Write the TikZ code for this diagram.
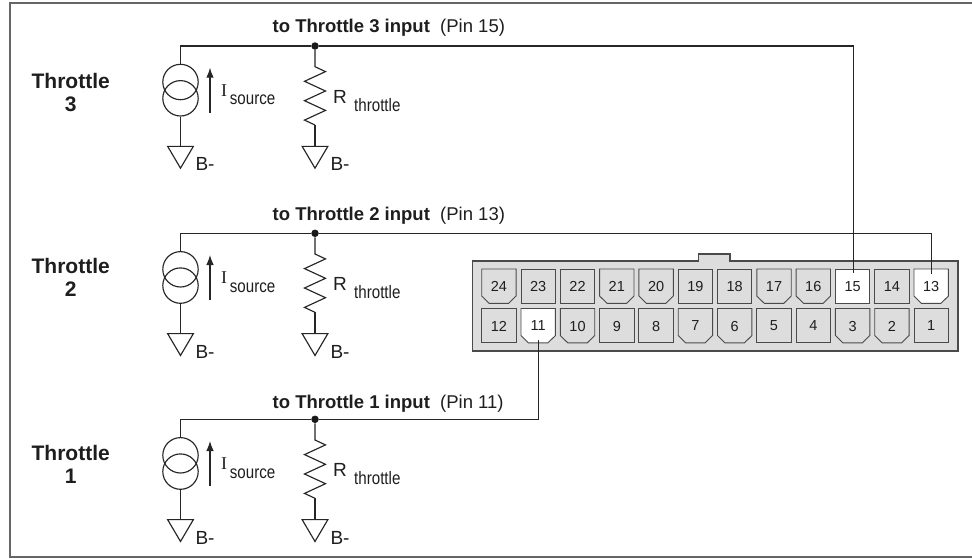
\documentclass[tikz,border=0pt]{standalone}
\usepackage{fontspec}
\setmainfont{Liberation Sans}
\newfontfamily\serifi{Liberation Serif}
\newfontfamily\narrowsans[FakeStretch=0.84]{Liberation Sans}
\usetikzlibrary{shapes.geometric,arrows.meta}
\definecolor{wire}{HTML}{262626}
\definecolor{housing}{HTML}{DDDDDD}
\definecolor{pinedge}{HTML}{4A4A4A}
\definecolor{textcol}{HTML}{1E1E1E}
\tikzset{
 wireline/.style={draw=wire,line width=1.15pt},
 junction/.style={circle,fill=black!90,inner sep=0pt,minimum size=7.5pt},
 anchorpt/.style={inner sep=0pt,minimum size=0pt},
 groundsym/.style={wireline,isosceles triangle,isosceles triangle apex angle=61,shape border rotate=-90,inner sep=0pt,minimum height=21.8pt,minimum width=25.7pt,anchor=apex},
 srccircle/.style={wireline,circle,minimum size=35.4pt,inner sep=0pt},
 pinlabel/.style={font=\fontsize{14.5}{15}\selectfont,text=textcol,inner sep=0pt},
 toplabel/.style={font=\fontsize{18.5}{20}\selectfont,text=textcol,anchor=base west,inner sep=0pt},
 sidelabel/.style={font=\bfseries\fontsize{21}{23}\selectfont,text=textcol,align=center,inner sep=0pt,anchor=south},
 quantity/.style={font=\fontsize{19}{21}\selectfont,text=textcol,anchor=base west,inner sep=0pt},
 symi/.style={font=\serifi\fontsize{18}{20}\selectfont,text=textcol,anchor=base west,inner sep=0pt},
 subtext/.style={font=\narrowsans\fontsize{18}{20}\selectfont,text=textcol,anchor=base west,inner sep=0pt},
 pinnode/.style={minimum width=34.4pt,minimum height=34.4pt,inner sep=0pt},
 pinbody/.style={draw=pinedge,line width=0.9pt},
}
% straight pin: #1 number, #2 x-left, #3 y-top, #4 fill
\newcommand{\straightpin}[4]{%
 \path[pinbody,fill=#4] (#2,#3) rectangle ++(34.4,34.4);
 \node[pinnode] (pin#1) at (#2+17.2,#3+17.2) {};
 \node[pinlabel] (lbl#1) at (#2+17.2,#3+17.5) {#1};
}
% chamfered pin
\newcommand{\chamferpin}[4]{%
 \path[pinbody,fill=#4] (#2,#3) -- ++(34.4,0) -- ++(0,27) -- ++(-7.5,7.4) -- ++(-19.4,0) -- ++(-7.5,-7.4) -- cycle;
 \node[pinnode] (pin#1) at (#2+17.2,#3+17.2) {};
 \node[pinlabel] (lbl#1) at (#2+17.2,#3+17.5) {#1};
}
% one throttle circuit: #1 name, #2 wire y
\newcommand{\throttle}[2]{%
 \node[junction] (dot#1) at (315,#2) {};
 \coordinate (corner#1) at (180.5,#2);
 \node[srccircle] (srcA#1) at (180.5,#2+36) {};
 \node[srccircle] (srcB#1) at (180.5,#2+52.3) {};
 \draw[wireline] (dot#1) -- (corner#1) -- (srcA#1.north);
 \node[groundsym] (gndA#1) at (180.5,#2+123.3) {};
 \draw[wireline] (srcB#1.south) -- (gndA#1.lower side);
 \node[anchorpt] (arrB#1) at (210,#2+67) {};
 \node[anchorpt] (arrT#1) at (210,#2+21.5) {};
 \draw[wireline,-{Latex[length=10pt,width=7.5pt]}] (arrB#1) -- (arrT#1);
 \node[symi] (isym#1) at (220.8,#2+50) {I};
 \node[subtext] (isrc#1) at (229.7,#2+58.7) {source};
 \coordinate (rt#1) at (315,#2+20.7);
 \coordinate (rb#1) at (315,#2+79);
 \draw[wireline] (dot#1) -- (rt#1) -- ++(10.5,4.9) -- ++(-21,9.7) -- ++(21,9.7) -- ++(-21,9.7) -- ++(21,9.7) -- ++(-21,9.7) -- (rb#1);
 \node[groundsym] (gndB#1) at (315,#2+123.3) {};
 \draw[wireline] (rb#1) -- (gndB#1.lower side);
 \node[quantity] (rsym#1) at (332.8,#2+57.5) {R};
 \node[subtext] (rsub#1) at (354,#2+65.3) {throttle};
 \node[quantity] (bA#1) at (195.3,#2+124.7) {B-};
 \node[quantity] (bB#1) at (330.3,#2+124.7) {B-};
}
\begin{document}
\begin{tikzpicture}[x=1pt,y=-1pt]
\useasboundingbox (0,0) rectangle (972,558);
\fill[white] (0,0) rectangle (972,558);
\draw[draw=black!60,line width=1.2pt] (972,3) -- (10,3) -- (10,557) -- (972,557);
% connector housing
\path[fill=housing,draw=pinedge,line width=1.3pt] (472.5,261) -- (698.5,261) -- (698.5,254) -- (730,254) -- (730,261) -- (958,261) -- (958,351) -- (472.5,351) -- cycle;
% top row
\chamferpin{24}{481.7}{269}{housing}
\straightpin{23}{521}{269}{housing}
\straightpin{22}{560.3}{269}{housing}
\chamferpin{21}{599.6}{269}{housing}
\chamferpin{20}{638.9}{269}{housing}
\straightpin{19}{678.2}{269}{housing}
\straightpin{18}{717.5}{269}{housing}
\chamferpin{17}{756.8}{269}{housing}
\chamferpin{16}{796.1}{269}{housing}
\straightpin{15}{835.4}{269}{white}
\straightpin{14}{874.7}{269}{housing}
\chamferpin{13}{914}{269}{white}
% bottom row
\straightpin{12}{481.7}{308.5}{housing}
\chamferpin{11}{521}{308.5}{white}
\chamferpin{10}{560.3}{308.5}{housing}
\straightpin{9}{599.6}{308.5}{housing}
\straightpin{8}{638.9}{308.5}{housing}
\chamferpin{7}{678.2}{308.5}{housing}
\chamferpin{6}{717.5}{308.5}{housing}
\straightpin{5}{756.8}{308.5}{housing}
\straightpin{4}{796.1}{308.5}{housing}
\chamferpin{3}{835.4}{308.5}{housing}
\chamferpin{2}{874.7}{308.5}{housing}
\straightpin{1}{914}{308.5}{housing}
% circuits
\throttle{C}{46}
\throttle{B}{233.3}
\throttle{A}{419.3}
% wires to pins
\draw[wireline] (dotC) -| ([xshift=1pt,yshift=-4pt]pin15.north);
\draw[wireline] (dotB) -| ([yshift=-5pt]pin13.north);
\draw[wireline] (dotA) -| ([yshift=3pt]pin11.south);
% labels
\node[toplabel] (tC) at (272.5,32.7) {\textbf{to Throttle 3 input}\ \ (Pin 15)};
\node[toplabel] (tB) at (272.5,220.7) {\textbf{to Throttle 2 input}\ \ (Pin 13)};
\node[toplabel] (tA) at (272.5,408.3) {\textbf{to Throttle 1 input}\ \ (Pin 11)};
\node[sidelabel] (sC) at (70.7,112) {Throttle\\3};
\node[sidelabel] (sB) at (70.7,296.7) {Throttle\\2};
\node[sidelabel] (sA) at (70.7,483.5) {Throttle\\1};
\end{tikzpicture}
\end{document}
